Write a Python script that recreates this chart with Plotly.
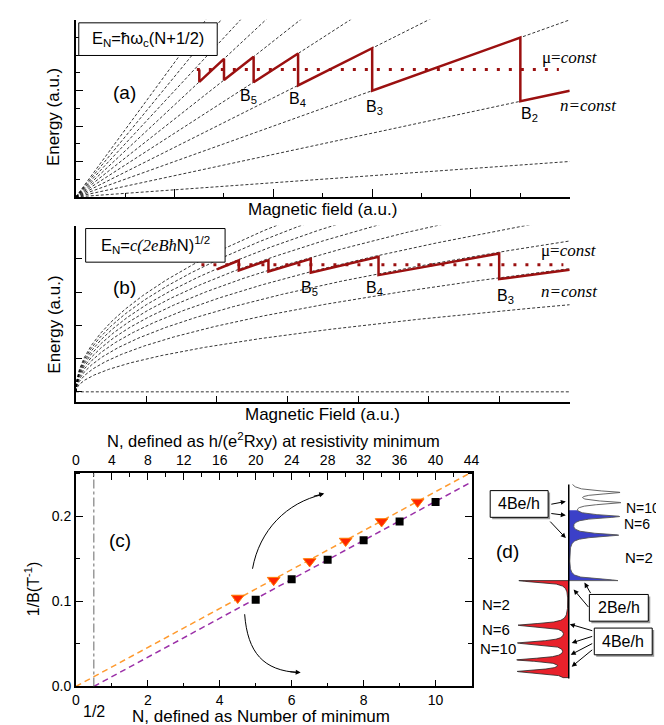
import numpy as np
import plotly.graph_objects as go

W, H = 664, 725
def PX(x): return x / W
def PY(y): return 1 - y / H

SANS = "Liberation Sans, Arial, sans-serif"
SERIF = "Liberation Serif, Times New Roman, serif"
DARKRED = "#9B1010"

# ---------------- data ----------------
# (a) parabolic bands: E_N = hw_c (N+1/2)
a_levels = list(range(10))
a_hw_per_B = 0.4
a_saw_B = [2.5, 2.5, 3.0, 3.0, 3.6, 3.6, 4.5, 4.5, 6.0, 6.0, 9.0, 9.0, 10.0]
a_saw_E = [7.2, 6.5, 7.8, 6.6, 7.92, 6.48, 8.1, 6.3, 8.4, 6.0, 9.0, 5.4, 6.0]
a_mu = 7.2
a_mu_B = [2.45, 9.78]

# (b) graphene: E_N = c (2 e B hbar N)^1/2
b_levels = list(range(10))
b_c = 0.99
b_saw_B = [2.0, 2.31, 2.31, 2.73, 2.73, 3.33, 3.33, 4.29, 4.29, 6.0, 6.0, 7.0]
b_saw_E = [3.68, 3.95, 3.65, 3.96, 3.62, 4.0, 3.58, 4.06, 3.51, 4.16, 3.39, 3.67]
b_mu = 3.82
b_mu_B = [1.78, 6.91]

# (c) 1/B at minima
c_sq_N = [5, 6, 7, 8, 9, 10]
c_sq_invB = [0.102, 0.126, 0.149, 0.172, 0.194, 0.217]
c_tri_N = [4.5, 5.5, 6.5, 7.5, 8.5, 9.5]
c_tri_invB = [0.104, 0.125, 0.147, 0.171, 0.194, 0.217]
c_fit_slope = 0.0229
c_fit_offsets = [0.0, 0.5]
c_fit_colors = ["#FF9A2E", "#9B30A8"]

# (d) density of states
d_hole_peaks = [0.0, -1.0, -1.4, -1.78, -2.04]
d_elec_peaks = [0.0, 1.02, 1.44, 1.75, 1.98]
d_width = 0.045
d_EF = 1.58
d_Emin, d_Emax = -2.18, 2.16

fig = go.Figure()

# ---------------- (a) ----------------
for N in a_levels:
    fig.add_trace(go.Scatter(x=[0, 10], y=[0, a_hw_per_B * (N + 0.5) * 10], mode="lines",
                             line=dict(color="black", width=0.8, dash="3px,2px"),
                             xaxis="x", yaxis="y", hoverinfo="skip"))
fig.add_trace(go.Scatter(x=a_mu_B, y=[a_mu, a_mu], mode="lines",
                         line=dict(color=DARKRED, width=3, dash="3px,9px"), xaxis="x", yaxis="y"))
fig.add_trace(go.Scatter(x=a_saw_B, y=a_saw_E, mode="lines",
                         line=dict(color=DARKRED, width=2.5), xaxis="x", yaxis="y"))

# ---------------- (b) ----------------
t = np.linspace(0, 1, 300)
Bgrid = 7 * t ** 2
for N in b_levels:
    fig.add_trace(go.Scatter(x=Bgrid, y=b_c * np.sqrt(N * Bgrid), mode="lines",
                             line=dict(color="black", width=0.8, dash="3px,2px"),
                             xaxis="x2", yaxis="y2", hoverinfo="skip"))
fig.add_trace(go.Scatter(x=b_mu_B, y=[b_mu, b_mu], mode="lines",
                         line=dict(color=DARKRED, width=3, dash="3px,9px"), xaxis="x2", yaxis="y2"))
fig.add_trace(go.Scatter(x=b_saw_B, y=b_saw_E, mode="lines",
                         line=dict(color=DARKRED, width=2.5), xaxis="x2", yaxis="y2"))

# ---------------- (c) ----------------
for off, col in zip(c_fit_offsets, c_fit_colors):
    xs = np.array([off, 11.0])
    fig.add_trace(go.Scatter(x=xs, y=c_fit_slope * (xs - off), mode="lines",
                             line=dict(color=col, width=1.5, dash="6px,4px"),
                             xaxis="x3", yaxis="y3"))
fig.add_trace(go.Scatter(x=c_sq_N, y=c_sq_invB, mode="markers",
                         marker=dict(symbol="square", size=8, color="black"),
                         xaxis="x3", yaxis="y3"))
fig.add_trace(go.Scatter(x=c_tri_N, y=c_tri_invB, mode="markers",
                         marker=dict(symbol="triangle-down", size=11, color="#FF2400",
                                     line=dict(color="#FF7A00", width=1)),
                         xaxis="x3", yaxis="y3"))
# dummy trace to activate top axis
fig.add_trace(go.Scatter(x=[0], y=[0], mode="markers", marker=dict(size=0.1, opacity=0),
                         xaxis="x4", yaxis="y3", hoverinfo="skip"))

# ---------------- (d) ----------------
def dos(E, peaks):
    s = np.zeros_like(E)
    for p in peaks:
        s += d_width ** 2 / ((E - p) ** 2 + d_width ** 2)
    return s

Er = np.linspace(d_Emin, 0, 1200)
Dr = dos(Er, d_hole_peaks)
Dr = Dr / Dr.max()
fig.add_trace(go.Scatter(x=np.concatenate([[0], -Dr[::-1], [0]]),
                         y=np.concatenate([[0], Er[::-1], [d_Emin]]),
                         mode="lines", fill="toself", fillcolor="#E8212B",
                         line=dict(color="#222222", width=0.8), xaxis="x5", yaxis="y5"))
Eb = np.linspace(0, d_Emax, 1200)
Db = dos(Eb, d_elec_peaks)
Db = Db / Db.max()
mask = Eb <= d_EF
fig.add_trace(go.Scatter(x=np.concatenate([[0], Db[mask], [0]]),
                         y=np.concatenate([[0], Eb[mask], [Eb[mask][-1]]]),
                         mode="lines", fill="toself", fillcolor="#3B40C8",
                         line=dict(width=0), xaxis="x5", yaxis="y5"))
fig.add_trace(go.Scatter(x=np.concatenate([[0], Db]), y=np.concatenate([[0], Eb]),
                         mode="lines", line=dict(color="#555555", width=0.9),
                         xaxis="x5", yaxis="y5"))
fig.add_trace(go.Scatter(x=[0, 0], y=[d_Emin - 0.02, d_Emax], mode="lines",
                         line=dict(color="black", width=1.5), xaxis="x5", yaxis="y5"))

# ---------------- axes ----------------
def ax_common(**kw):
    d = dict(showgrid=False, zeroline=False, showline=True, linecolor="black", linewidth=1.5,
             ticks="inside", tickcolor="black", tickwidth=1.2)
    d.update(kw)
    return d

TF = dict(size=14, family=SANS, color="black")
layout_axes = dict(
    xaxis=ax_common(domain=[PX(65), PX(568)], range=[0, 10], anchor="y", tick0=0, dtick=2, ticklen=8,
                    showticklabels=False,
                    minor=dict(dtick=1, ticklen=4, ticks="inside", tickcolor="black", tickwidth=1.2)),
    yaxis=ax_common(domain=[PY(191), PY(12)], range=[0, 10], anchor="x", tick0=0, dtick=2, ticklen=7,
                    showticklabels=False,
                    minor=dict(dtick=1, ticklen=4, ticks="inside", tickcolor="black", tickwidth=1.2)),
    xaxis2=ax_common(domain=[PX(65), PX(568)], range=[0, 7], anchor="y2", tick0=0, dtick=1, ticklen=6,
                     showticklabels=False),
    yaxis2=ax_common(domain=[PY(398), PY(220)], range=[-0.294, 5], anchor="x2", tick0=0, dtick=1,
                     ticklen=6, showticklabels=False),
    xaxis3=ax_common(domain=[PX(65), PX(468)], range=[0, 11], anchor="y3", tick0=0, dtick=2, ticklen=7,
                     tickfont=TF,
                     minor=dict(dtick=1, ticklen=4, ticks="inside", tickcolor="black", tickwidth=1.2)),
    xaxis4=ax_common(overlaying="x3", side="top", range=[0, 44], anchor="y3", tick0=0, dtick=4, ticklen=7,
                     tickfont=TF,
                     minor=dict(dtick=2, ticklen=4, ticks="inside", tickcolor="black", tickwidth=1.2)),
    yaxis3=ax_common(domain=[PY(686), PY(470)], range=[0, 0.2512], anchor="x3", tick0=0, dtick=0.1,
                     ticklen=7, tickformat=".1f", mirror="ticks", tickfont=TF,
                     minor=dict(dtick=0.05, ticklen=4, ticks="inside", tickcolor="black", tickwidth=1.2)),
    xaxis5=dict(domain=[PX(500), PX(640)], range=[-67 / 53, 73 / 53], anchor="y5", visible=False),
    yaxis5=dict(domain=[PY(680), PY(480)], range=[(579 - 680) / 45, (579 - 480) / 45], anchor="x5",
                visible=False),
)

# ---------------- decorations ----------------
shapes = []
annotations = []

def ann(text, x, y, size=15, family=SANS, **kw):
    d = dict(text=text, x=PX(x), y=PY(y), xref="paper", yref="paper", showarrow=False,
             font=dict(size=size, family=family, color="black"), xanchor="center", yanchor="middle")
    d.update(kw)
    annotations.append(d)

def box(x0, y0, x1, y1, shadow=False):
    if shadow:
        shapes.append(dict(type="rect", xref="paper", yref="paper", x0=PX(x0 + 2), x1=PX(x1 + 2),
                           y0=PY(y1 + 2), y1=PY(y0 + 2), fillcolor="#999999",
                           line=dict(width=0), layer="above"))
    shapes.append(dict(type="rect", xref="paper", yref="paper", x0=PX(x0), x1=PX(x1), y0=PY(y1), y1=PY(y0),
                       fillcolor="white", line=dict(color="black", width=1), layer="above"))

def arrow(tip, tail, width=1):
    annotations.append(dict(x=PX(tip[0]), y=PY(tip[1]), xref="paper", yref="paper", text="",
                            showarrow=True, ax=tail[0] - tip[0], ay=tail[1] - tip[1],
                            arrowhead=2, arrowsize=1, arrowwidth=width, arrowcolor="black"))

# (a)
box(68, 15, 209, 48)
ann("E<sub>N</sub>=ħω<sub>c</sub>(N+1/2)", 138, 31, size=16.5)
ann("(a)", 115, 85, size=19)
ann("B<sub>5</sub>", 241, 89, size=16)
ann("B<sub>4</sub>", 291, 93, size=16)
ann("B<sub>3</sub>", 369, 101, size=16)
ann("B<sub>2</sub>", 527, 108, size=16)
ann("μ=<i>const</i>", 568, 50, size=17, family=SERIF)
ann("<i>n=const</i>", 587, 99, size=17, family=SERIF)
ann("Energy (a.u.)", 43, 110, size=17, textangle=-90)
ann("Magnetic field (a.u.)", 316, 204, size=17)

# (b)
box(75, 223, 217, 257)
ann("E<sub>N</sub>=<span style='font-family:Liberation Serif'><i>c(2eBħ</i></span>N)<sup>1/2</sup>",
    146, 240, size=16.5)
ann("(b)", 115, 283, size=19)
ann("B<sub>5</sub>", 303, 284, size=16)
ann("B<sub>4</sub>", 369, 284, size=16)
ann("B<sub>3</sub>", 503, 292, size=16)
ann("μ=<i>const</i>", 567, 245, size=17, family=SERIF)
ann("<i>n=const</i>", 568, 287, size=17, family=SERIF)
ann("Energy (a.u.)", 43, 320, size=17, textangle=-90)
ann("Magnetic Field (a.u.)", 316, 411, size=17)

# (c)
ann("(c)", 110, 538, size=19)
ann("N, defined as h/(e<sup>2</sup>Rxy) at resistivity minimum", 266, 437, size=16.5)
ann("N, defined as Number of minimum", 254, 716, size=17)
ann("1/B(T<sup>-1</sup>)", 20, 588, size=16, textangle=-90)
ann("1/2", 84, 711, size=16)
shapes.append(dict(type="line", xref="x3", yref="y3", x0=0.5, x1=0.5, y0=0, y1=0.2512,
                   line=dict(color="#808080", width=1.2, dash="dashdot")))

def cdata(px, py):
    return (px - 65) / 36.65, (686 - py) / 860

def curve(pts):
    p = [cdata(*q) for q in pts]
    return "M {},{} C {},{} {},{} {},{}".format(p[0][0], p[0][1], p[1][0], p[1][1],
                                                 p[2][0], p[2][1], p[3][0], p[3][1])

shapes.append(dict(type="path", xref="x3", yref="y3",
                   path=curve([(245, 567), (252, 528), (280, 500), (316, 492)]),
                   line=dict(color="black", width=1)))
shapes.append(dict(type="path", xref="x3", yref="y3",
                   path=curve([(237, 613), (240, 652), (256, 670), (292, 672)]),
                   line=dict(color="black", width=1)))
arrow((318, 491), (306, 494))
arrow((294, 672), (282, 671))

# (d)
ann("(d)", 505, 550, size=19)
box(487, 488, 546, 515, shadow=True)
ann("4Be/h", 516.5, 501.5, size=16)
box(588, 593, 648, 620, shadow=True)
ann("2Be/h", 618, 606.5, size=16)
box(593, 627, 652, 654, shadow=True)
ann("4Be/h", 622.5, 640.5, size=16)
ann("N=10", 643, 506, size=14)
ann("N=6", 636, 522, size=14)
ann("N=2", 639, 556, size=15)
ann("N=2", 493, 603, size=15)
ann("N=6", 493, 628, size=15)
ann("N=10", 495, 648, size=15)
for tip, tail in [((564, 499), (548, 502)), ((564, 513), (548, 511)), ((564, 536), (547, 518)),
                  ((583, 581), (590, 593)), ((572, 588), (588, 607)),
                  ((568, 623), (592, 630)), ((570, 642), (592, 635)),
                  ((569, 654), (592, 642)), ((570, 666), (592, 648))]:
    arrow(tip, tail)

fig.update_layout(width=W, height=H, margin=dict(l=0, r=0, t=0, b=0), showlegend=False,
                  paper_bgcolor="white", plot_bgcolor="white",
                  font=dict(family=SANS, color="black", size=14),
                  shapes=shapes, annotations=annotations, **layout_axes)

fig.write_html("out.html")
